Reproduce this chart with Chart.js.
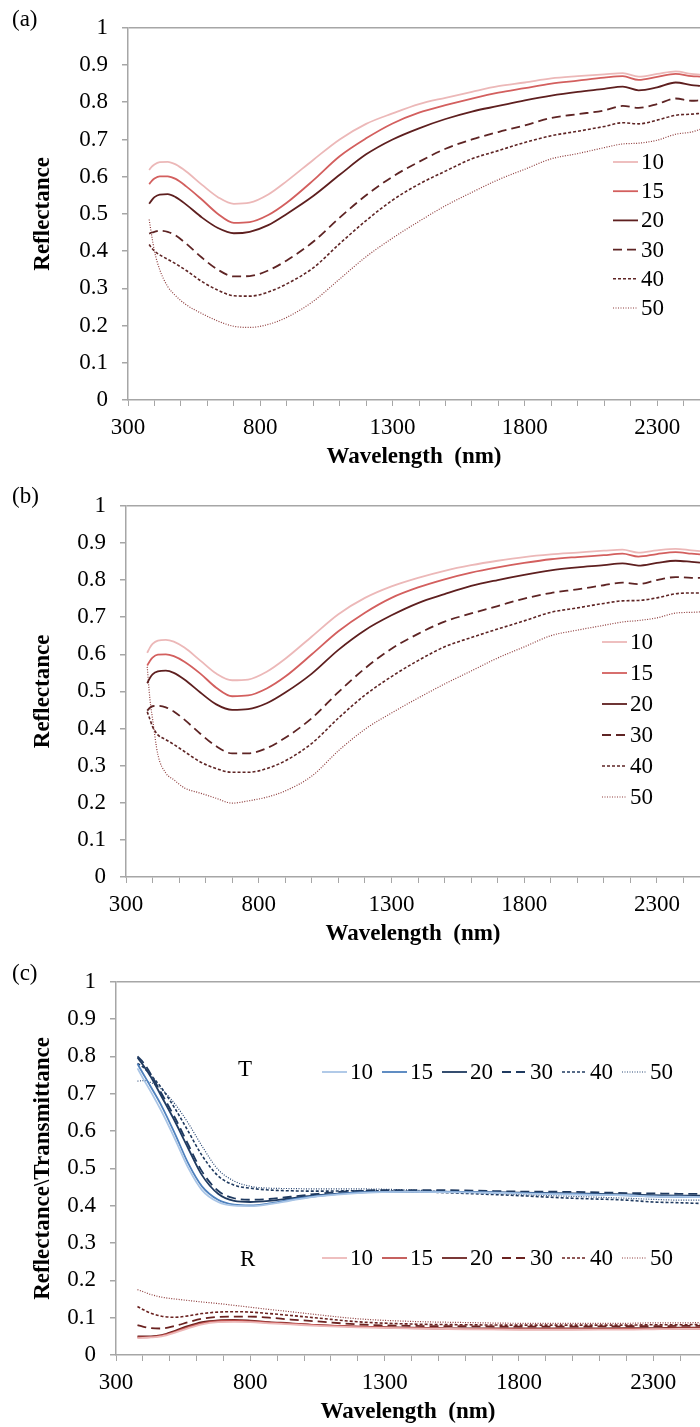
<!DOCTYPE html>
<html>
<head>
<meta charset="utf-8">
<script src="https://cdn.jsdelivr.net/npm/chart.js@4.4.1/dist/chart.umd.min.js"></script>
<style>
  html, body { margin: 0; padding: 0; background: #fff; overflow: hidden; }
  #wrap { position: relative; width: 700px; height: 1427px; }
  canvas { position: absolute; left: 0; }
</style>
</head>
<body>
<div id="wrap">
  <canvas id="pa" width="700" height="472" style="top:0px"></canvas>
  <canvas id="pb" width="700" height="471" style="top:478px"></canvas>
  <canvas id="pc" width="700" height="473" style="top:954px"></canvas>
</div>
<script>
// wavelengths (nm) shared by panels (a) and (b)
const wlAB = [380, 390, 400, 420, 450, 480, 520, 580, 640, 700, 760, 830, 900, 1000, 1100, 1200, 1300, 1400, 1500, 1600, 1700, 1800, 1900, 2000, 2100, 2170, 2230, 2300, 2370, 2430, 2462];

// panel (a) reflectance
const a10 = [.618, .627, .633, .639, .640, .633, .614, .578, .545, .527, .530, .552, .588, .645, .700, .742, .770, .795, .812, .828, .843, .853, .864, .870, .875, .878, .869, .876, .883, .876, .874];
const a15 = [.580, .589, .595, .601, .601, .594, .574, .538, .500, .476, .478, .497, .530, .590, .655, .703, .743, .772, .792, .810, .826, .838, .850, .858, .866, .870, .860, .868, .876, .870, .869];
const a20 = [.527, .537, .545, .552, .553, .545, .525, .490, .462, .448, .452, .470, .500, .548, .605, .660, .700, .730, .755, .775, .790, .805, .818, .828, .836, .842, .832, .840, .853, .846, .844];
const a30 = [.447, .450, .452, .455, .452, .442, .420, .382, .350, .332, .333, .348, .375, .425, .490, .550, .600, .640, .675, .700, .720, .738, .758, .768, .778, .790, .785, .795, .810, .804, .805];
const a40 = [.418, .408, .400, .390, .378, .366, .348, .318, .295, .280, .279, .290, .312, .355, .420, .482, .537, .580, .615, .648, .670, .692, .710, .722, .735, .745, .742, .752, .765, .768, .770];
const a50 = [.485, .440, .400, .350, .305, .280, .256, .232, .212, .198, .195, .203, .222, .265, .325, .385, .435, .480, .522, .558, .592, .620, .648, .662, .678, .688, .690, .698, .714, .720, .727];

// panel (b) reflectance
const b10 = [.604, .618, .628, .637, .639, .634, .618, .583, .548, .530, .532, .553, .588, .648, .708, .752, .783, .806, .825, .840, .852, .862, .869, .874, .879, .882, .874, .880, .884, .880, .878];
const b15 = [.570, .582, .591, .599, .600, .595, .580, .548, .510, .487, .489, .508, .540, .600, .662, .712, .752, .780, .802, .820, .834, .846, .856, .862, .867, .871, .863, .870, .875, .871, .869];
const b20 = [.522, .536, .546, .554, .556, .550, .532, .497, .465, .450, .452, .468, .497, .548, .612, .665, .705, .738, .762, .784, .800, .814, .826, .834, .840, .845, .839, .846, .852, .849, .847];
const b30 = [.448, .456, .460, .461, .457, .446, .424, .386, .352, .333, .333, .347, .375, .428, .498, .562, .615, .655, .688, .710, .730, .750, .765, .775, .786, .793, .789, .800, .808, .806, .806];
const b40 = [.445, .425, .405, .383, .370, .357, .338, .310, .292, .282, .282, .292, .313, .360, .428, .490, .540, .583, .620, .645, .668, .690, .713, .725, .737, .744, .745, .752, .763, .765, .765];
const b50 = [.566, .480, .426, .330, .280, .262, .240, .226, .212, .199, .205, .215, .232, .272, .340, .398, .442, .482, .520, .555, .590, .620, .650, .665, .678, .687, .691, .698, .711, .713, .714];

// panel (c) wavelengths
const wlC = [380, 400, 430, 470, 520, 570, 620, 680, 740, 800, 870, 950, 1050, 1200, 1400, 1600, 1800, 2000, 2200, 2300, 2400, 2474];

// panel (c) transmittance
const t10 = [.768, .742, .705, .652, .578, .500, .442, .410, .400, .399, .404, .414, .425, .434, .437, .436, .433, .430, .428, .425, .424, .423];
const t15 = [.780, .755, .718, .667, .592, .512, .452, .416, .403, .401, .406, .416, .426, .436, .438, .437, .434, .432, .428, .425, .424, .423];
const t20 = [.797, .778, .745, .692, .625, .552, .482, .432, .413, .410, .413, .420, .428, .436, .438, .437, .435, .433, .430, .428, .427, .427];
const t30 = [.800, .785, .752, .700, .635, .562, .492, .440, .420, .416, .418, .424, .432, .440, .442, .441, .438, .437, .434, .433, .432, .432];
const t40 = [.781, .772, .750, .715, .660, .598, .535, .480, .455, .447, .442, .440, .439, .440, .438, .433, .427, .420, .415, .410, .408, .406];
const t50 = [.734, .735, .730, .712, .672, .620, .560, .497, .466, .452, .447, .446, .445, .445, .442, .436, .430, .425, .420, .417, .415, .415];

// panel (c) reflectance
const r10 = [.045, .046, .047, .050, .060, .072, .082, .088, .089, .088, .085, .082, .078, .074, .071, .069, .068, .068, .068, .069, .070, .070];
const r15 = [.047, .047, .048, .052, .062, .075, .085, .091, .092, .090, .087, .084, .080, .076, .072, .070, .069, .069, .070, .070, .071, .071];
const r20 = [.050, .050, .050, .053, .065, .078, .088, .093, .094, .092, .088, .085, .080, .076, .073, .071, .071, .071, .072, .072, .073, .073];
const r30 = [.080, .076, .072, .071, .078, .088, .097, .102, .103, .103, .100, .095, .090, .082, .078, .077, .076, .076, .077, .077, .078, .078];
const r40 = [.130, .122, .112, .104, .101, .105, .111, .115, .116, .115, .111, .106, .099, .089, .083, .081, .080, .080, .080, .081, .081, .082];
const r50 = [.175, .170, .162, .155, .150, .146, .142, .138, .133, .128, .122, .116, .108, .097, .090, .087, .085, .085, .085, .086, .086, .087];

const labels = ['10', '15', '20', '30', '40', '50'];

const FONT = '"Liberation Serif", "Times New Roman", serif';
const AXIS = '#a6a6a6';

const redStyle = [
  { color: '#ecb8b8', width: 1.8, dash: [] },
  { color: '#d35f5e', width: 1.8, dash: [] },
  { color: '#5e1f1f', width: 1.8, dash: [] },
  { color: '#5e2424', width: 1.8, dash: [9, 5] },
  { color: '#5e2424', width: 1.6, dash: [3, 2] },
  { color: '#8e3c3c', width: 1.2, dash: [1, 1.5] }
];
const blueStyle = [
  { color: '#a9c5e6', width: 1.8, dash: [] },
  { color: '#4f81bd', width: 1.8, dash: [] },
  { color: '#1f3a60', width: 1.8, dash: [] },
  { color: '#1f3a60', width: 1.8, dash: [9, 5] },
  { color: '#1f3a60', width: 1.6, dash: [3, 2] },
  { color: '#2b4a76', width: 1.2, dash: [1, 1.5] }
];
const darkRedStyle = [
  { color: '#ecb8b8', width: 1.8, dash: [] },
  { color: '#c0504d', width: 1.8, dash: [] },
  { color: '#6b2220', width: 1.8, dash: [] },
  { color: '#6b2220', width: 1.8, dash: [9, 5] },
  { color: '#6b2220', width: 1.6, dash: [3, 2] },
  { color: '#8e3c3c', width: 1.2, dash: [1, 1.5] }
];

function pts(xs, ys) {
  return xs.map((x, i) => ({ x: x, y: ys[i] }));
}

function series(xs, list, styles) {
  return list.map((ys, i) => ({
    label: labels[i],
    data: pts(xs, ys),
    borderColor: styles[i].color,
    borderWidth: styles[i].width,
    borderDash: styles[i].dash,
    pointRadius: 0,
    fill: false,
    cubicInterpolationMode: 'monotone'
  }));
}

// draws the in-plot keys and panel letters
const keyPlugin = {
  id: 'keyBox',
  afterDraw(chart, args, opts) {
    const ctx = chart.ctx;
    ctx.save();
    ctx.font = '23px ' + FONT;
    ctx.textBaseline = 'middle';
    ctx.fillStyle = '#000';
    (opts.notes || []).forEach(n => {
      ctx.textAlign = 'left';
      ctx.fillText(n.text, n.x, n.y);
    });
    (opts.rows || []).forEach(row => {
      row.sets.forEach((di, i) => {
        const ds = chart.data.datasets[di];
        const x = row.x + (row.dx || 0) * i;
        const y = row.y + (row.dy || 0) * i;
        ctx.strokeStyle = ds.borderColor;
        ctx.lineWidth = ds.borderWidth;
        ctx.setLineDash(ds.borderDash || []);
        ctx.beginPath();
        ctx.moveTo(x, y);
        ctx.lineTo(x + 25, y);
        ctx.stroke();
        ctx.setLineDash([]);
        ctx.textAlign = 'left';
        ctx.fillText(ds.label, x + 28, y + 1);
      });
    });
    ctx.restore();
  }
};

function makeChart(id, p) {
  return new Chart(document.getElementById(id), {
    type: 'line',
    data: { datasets: p.datasets },
    plugins: [keyPlugin],
    options: {
      responsive: false,
      animation: false,
      devicePixelRatio: 1,
      layout: { padding: { top: 15, left: 0, right: 0, bottom: 0 } },
      plugins: {
        legend: { display: false },
        tooltip: { enabled: false },
        keyBox: { rows: p.rows, notes: p.notes }
      },
      scales: {
        x: {
          type: 'linear',
          position: 'bottom',
          min: 300,
          max: p.xMax,
          afterFit: s => { s.height = 72; },
          border: { color: AXIS, width: 1.5 },
          grid: { drawOnChartArea: false, drawTicks: true, tickLength: 6, color: AXIS, tickColor: AXIS },
          ticks: {
            stepSize: 100,
            autoSkip: false,
            includeBounds: false,
            maxRotation: 0,
            minRotation: 0,
            padding: 8,
            color: '#000',
            font: { family: FONT, size: 23 },
            callback: v => ((v - 300) % 500 === 0 ? String(v) : '')
          },
          title: {
            display: true,
            text: 'Wavelength  (nm)',
            color: '#000',
            font: { family: FONT, size: 23, weight: 'bold' },
            padding: { top: 0, bottom: 1 }
          }
        },
        y: {
          min: 0,
          max: 1,
          afterFit: s => { s.width = p.left; },
          border: { color: AXIS, width: 1.5 },
          grid: {
            drawOnChartArea: true,
            drawTicks: true,
            tickLength: 6,
            tickColor: AXIS,
            color: c => (Math.abs(c.tick.value - 1) < 1e-9 ? AXIS : 'rgba(0,0,0,0)'),
            lineWidth: 1.5
          },
          ticks: {
            stepSize: 0.1,
            padding: 14,
            color: '#000',
            font: { family: FONT, size: 23 },
            callback: v => String(+v.toFixed(1))
          },
          title: {
            display: true,
            text: p.yTitle,
            color: '#000',
            font: { family: FONT, size: 23, weight: 'bold' },
            padding: { top: 29, bottom: 0 }
          }
        }
      }
    }
  });
}

makeChart('pa', {
  left: 128,
  xMax: 2462,
  yTitle: 'Reflectance',
  datasets: series(wlAB, [a10, a15, a20, a30, a40, a50], redStyle),
  rows: [{ x: 613, y: 162, dy: 29.2, sets: [0, 1, 2, 3, 4, 5] }],
  notes: [{ text: '(a)', x: 12, y: 20 }]
});

makeChart('pb', {
  left: 126,
  xMax: 2462,
  yTitle: 'Reflectance',
  datasets: series(wlAB, [b10, b15, b20, b30, b40, b50], redStyle),
  rows: [{ x: 602, y: 164, dy: 31, sets: [0, 1, 2, 3, 4, 5] }],
  notes: [{ text: '(b)', x: 12, y: 19 }]
});

makeChart('pc', {
  left: 116,
  xMax: 2474,
  yTitle: 'Reflectance\\Transmittance',
  datasets: series(wlC, [t10, t15, t20, t30, t40, t50], blueStyle)
    .concat(series(wlC, [r10, r15, r20, r30, r40, r50], darkRedStyle)),
  rows: [
    { x: 322, y: 118, dx: 60, sets: [0, 1, 2, 3, 4, 5] },
    { x: 322, y: 304, dx: 60, sets: [6, 7, 8, 9, 10, 11] }
  ],
  notes: [
    { text: '(c)', x: 12, y: 20 },
    { text: 'T', x: 238, y: 116 },
    { text: 'R', x: 240, y: 306 }
  ]
});
</script>
</body>
</html>
